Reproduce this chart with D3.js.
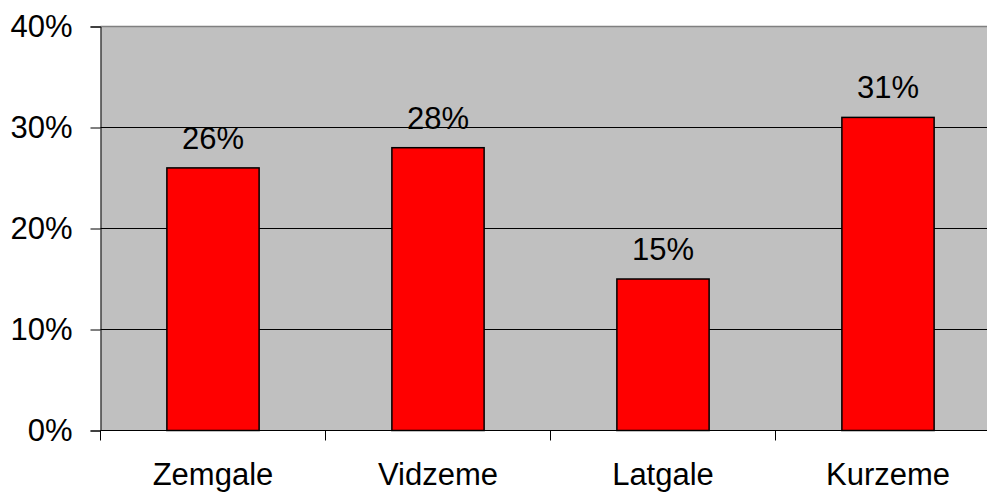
<!DOCTYPE html>
<html>
<head>
<meta charset="utf-8">
<script src="https://cdn.jsdelivr.net/npm/d3@7"></script>
<style>
  body { margin: 0; background: #fff; }
  svg text { font-family: "Liberation Sans", Arial, sans-serif; fill: #000; }
</style>
</head>
<body>
<svg id="chart" width="987" height="492"></svg>
<script>
'use strict'

const regions = ['Zemgale', 'Vidzeme', 'Latgale', 'Kurzeme']
const shares = [26, 28, 15, 31]
const yTicks = [0, 10, 20, 30, 40]

const margin = {top: 26.5, left: 100.5, bottom: 61.5}
const plotW = 900
const height = 492 - margin.top - margin.bottom
const fs = 31

const svg = d3.select('#chart')
const chart = svg.append('g')
  .attr('transform', `translate(${margin.left},${margin.top})`)

const x = d3.scaleBand()
  .domain(regions)
  .range([0, plotW])
  .paddingInner(0.59)
  .paddingOuter(0.295)

const y = d3.scaleLinear()
  .domain([0, 40])
  .range([height, 0])

// plot background
chart.append('rect')
  .attr('width', plotW)
  .attr('height', height)
  .attr('fill', '#c0c0c0')

chart.append('line')
  .attr('x1', 0).attr('x2', plotW)
  .attr('y1', 0).attr('y2', 0)
  .attr('stroke', '#808080')
  .attr('stroke-width', 1.5)

// gridlines
chart.selectAll('.grid')
  .data(yTicks.slice(1, -1))
  .join('line')
    .attr('class', 'grid')
    .attr('x1', 0).attr('x2', plotW)
    .attr('y1', d => y(d)).attr('y2', d => y(d))
    .attr('stroke', '#000')

// bars
chart.selectAll('.bar')
  .data(regions)
  .join('rect')
    .attr('class', 'bar')
    .attr('x', d => x(d))
    .attr('y', (d, i) => y(shares[i]))
    .attr('width', x.bandwidth())
    .attr('height', (d, i) => height - y(shares[i]))
    .attr('fill', '#ff0000')
    .attr('stroke', '#000')
    .attr('stroke-width', 1.5)

// value labels
chart.selectAll('.val')
  .data(regions)
  .join('text')
    .attr('class', 'val')
    .attr('x', d => x(d) + x.bandwidth() / 2)
    .attr('y', (d, i) => y(shares[i]) - 19)
    .attr('text-anchor', 'middle')
    .attr('font-size', fs)
    .text((d, i) => shares[i] + '%')

// y axis
const yAxis = chart.append('g')
  .call(d3.axisLeft(y).tickValues(yTicks).tickFormat(d => d + '%').tickSize(10).tickPadding(18))
yAxis.select('.domain').attr('stroke', '#000')
yAxis.selectAll('text').attr('font-size', fs).attr('font-family', '"Liberation Sans", Arial, sans-serif')

// x axis with ticks between categories
const xAxis = chart.append('g')
  .attr('transform', `translate(0,${height})`)
xAxis.append('line')
  .attr('x1', 0).attr('x2', plotW)
  .attr('stroke', '#000')
xAxis.selectAll('.xtick')
  .data(d3.range(regions.length + 1))
  .join('line')
    .attr('class', 'xtick')
    .attr('x1', i => i * x.step())
    .attr('x2', i => i * x.step())
    .attr('y1', 0).attr('y2', 10)
    .attr('stroke', '#000')
xAxis.selectAll('.xlab')
  .data(regions)
  .join('text')
    .attr('class', 'xlab')
    .attr('x', d => x(d) + x.bandwidth() / 2)
    .attr('y', 54)
    .attr('text-anchor', 'middle')
    .attr('font-size', fs)
    .text(d => d)
</script>
</body>
</html>
